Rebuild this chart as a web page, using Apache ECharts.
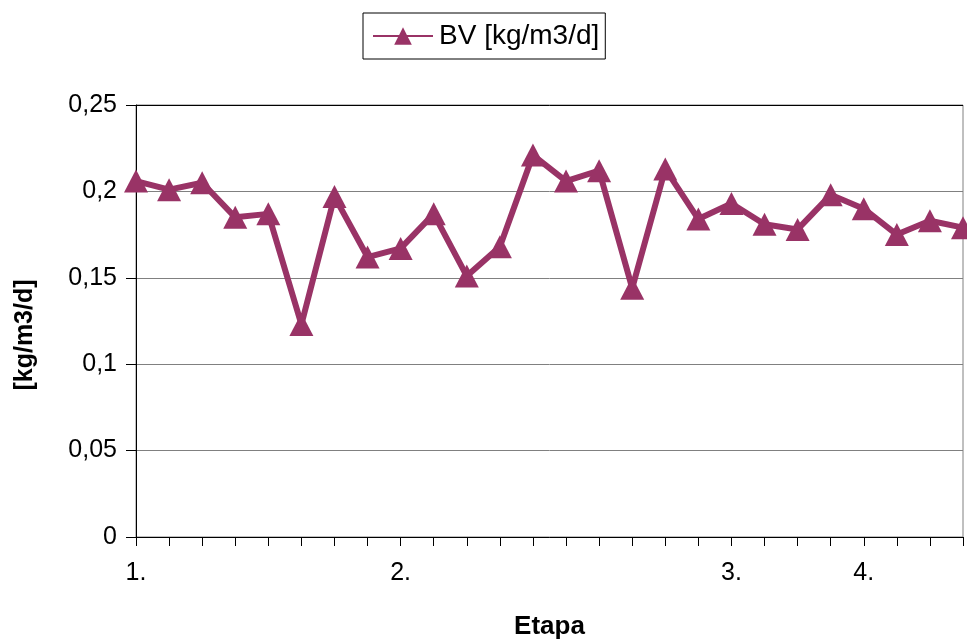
<!DOCTYPE html>
<html>
<head>
<meta charset="utf-8">
<script src="https://cdn.jsdelivr.net/npm/echarts@6/dist/echarts.min.js"></script>
<style>
  html, body { margin: 0; padding: 0; background: #fff; }
  #chart { width: 967px; height: 639px; }
</style>
</head>
<body>
<div id="chart"></div>
<script>
// Stage labels along the sampling points (blank where no stage starts)
const categories = ['1.', '', '', '', '', '', '', '', '2.', '', '', '', '', '', '', '', '', '', '3.', '', '', '', '4.', '', '', ''];
// Volumetric loading BV per sample, kg/m3/d
const bvValues = [0.206, 0.201, 0.205, 0.185, 0.187, 0.123, 0.197, 0.162, 0.167, 0.187, 0.151, 0.168, 0.221,
                  0.206, 0.212, 0.144, 0.213, 0.184, 0.193, 0.181, 0.178, 0.198, 0.190, 0.175, 0.183, 0.179];
const yTicks = [0, 0.05, 0.1, 0.15, 0.2, 0.25];

const font = '"Liberation Sans", Arial, sans-serif';
const chart = echarts.init(document.getElementById('chart'), null, { renderer: 'canvas' });

chart.setOption({
  animation: false,
  backgroundColor: '#ffffff',
  grid: {
    left: 136, right: 4, top: 105, bottom: 102,
    outerBoundsMode: 'none', containLabel: false,
    show: true, borderColor: '#808080', borderWidth: 1
  },
  legend: {
    left: 363, top: 13,
    padding: [9, 6, 9, 9],
    borderColor: '#000', borderWidth: 1,
    itemWidth: 60, itemHeight: 22, itemGap: 0,
    textStyle: { fontFamily: font, fontSize: 28, color: '#000', padding: [0, 0, 0, 1] },
    data: ['BV [kg/m3/d]']
  },
  xAxis: {
    type: 'category',
    data: categories,
    boundaryGap: false,
    name: 'Etapa',
    nameLocation: 'middle',
    nameGap: 77,
    nameTextStyle: { fontFamily: font, fontSize: 26, fontWeight: 'bold', color: '#000' },
    axisLine: { lineStyle: { color: '#000', width: 1 } },
    axisTick: { show: true, interval: 0, length: 9, inside: false, lineStyle: { color: '#000' } },
    axisLabel: { interval: 0, margin: 24, fontFamily: font, fontSize: 25, color: '#000' },
    splitLine: { show: false }
  },
  yAxis: {
    type: 'value',
    min: yTicks[0], max: yTicks[yTicks.length - 1], interval: 0.05,
    name: '[kg/m3/d]',
    nameLocation: 'middle',
    nameGap: 98,
    nameRotate: 90,
    nameTextStyle: { fontFamily: font, fontSize: 25, fontWeight: 'bold', color: '#000', padding: [0, 28, 0, 0] },
    axisLine: { show: true, lineStyle: { color: '#000', width: 1 } },
    axisTick: { show: true, length: 10, lineStyle: { color: '#000' } },
    axisLabel: {
      margin: 19, fontFamily: font, fontSize: 25, color: '#000',
      formatter: v => String(Math.round(v * 100) / 100).replace('.', ',')
    },
    splitLine: { show: true, lineStyle: { color: ['#808080', '#808080', '#808080', '#808080', '#808080', '#000'], width: 1 } }
  },
  series: [{
    name: 'BV [kg/m3/d]',
    type: 'line',
    data: bvValues,
    symbol: 'triangle',
    symbolSize: [24, 23],
    lineStyle: { color: '#993366', width: 6 },
    itemStyle: { color: '#993366' },
    z: 3
  }]
});
</script>
</body>
</html>
